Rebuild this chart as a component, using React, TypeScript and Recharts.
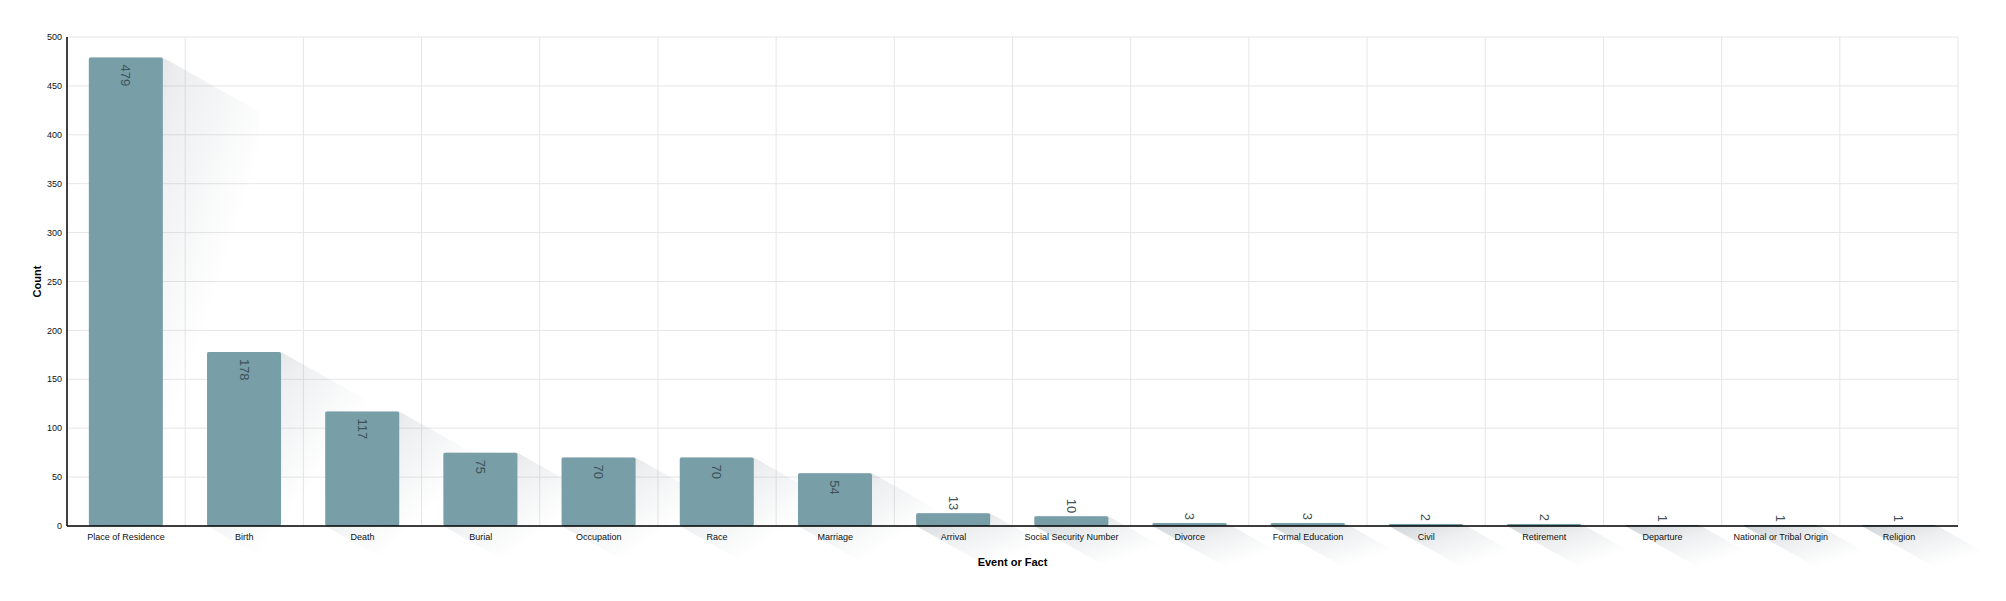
import React from 'react';
import { BarChart, Bar, XAxis, YAxis, CartesianGrid, LabelList, Label } from 'recharts';

const categories = [
  'Place of Residence', 'Birth', 'Death', 'Burial', 'Occupation', 'Race', 'Marriage', 'Arrival',
  'Social Security Number', 'Divorce', 'Formal Education', 'Civil', 'Retirement', 'Departure',
  'National or Tribal Origin', 'Religion',
];
const counts = [479, 178, 117, 75, 70, 70, 54, 13, 10, 3, 3, 2, 2, 1, 1, 1];
const yTicks = [0, 50, 100, 150, 200, 250, 300, 350, 400, 450, 500];

const data = categories.map((name, i) => ({ name, count: counts[i] }));

const BAR_COLOR = '#789ea8';
const FONT = '"Liberation Sans", Arial, Helvetica, sans-serif';

const ShadowBar = (props: any) => {
  const { x, y, width, height } = props;
  if (width == null || height == null) return null;
  const dx = 96;
  const dy = 54;
  const pts = [
    [x, y],
    [x + width, y],
    [x + width + dx, y + dy],
    [x + width + dx, y + height + dy],
    [x + dx, y + height + dy],
    [x, y + height],
  ]
    .map((p) => p.join(','))
    .join(' ');
  return (
    <g>
      <polygon points={pts} fill="url(#longShadow)" />
      <rect x={x} y={y} width={width} height={height} rx={2} ry={2} fill={BAR_COLOR} />
    </g>
  );
};

const ValueLabel = (props: any) => {
  const { x, y, width, height, value } = props;
  const cx = x + width / 2;
  const inside = height > 30;
  const ty = inside ? y + 7 : y - 3;
  return (
    <text
      x={cx}
      y={ty}
      transform={`rotate(90, ${cx}, ${ty})`}
      textAnchor={inside ? 'start' : 'end'}
      dominantBaseline="central"
      fontSize={13}
      fontFamily={FONT}
      fill="#3e5258"
    >
      {value}
    </text>
  );
};

const vertGen = ({ offset }: any) => {
  const arr: number[] = [];
  const n = categories.length;
  for (let i = 1; i <= n; i++) arr.push(offset.left + (offset.width * i) / n);
  return arr;
};

export default function App() {
  return (
    <div style={{ width: 1998, height: 564, fontFamily: FONT }}>
      <BarChart
        width={1998}
        height={564}
        data={data}
        margin={{ top: 29, right: 48, left: 0, bottom: 6 }}
        barCategoryGap="18.5%"
      >
        <defs>
          <linearGradient id="longShadow" x1="0" y1="0" x2="1" y2="1">
            <stop offset="0" stopColor="#5f6f7a" stopOpacity={0.3} />
            <stop offset="0.3" stopColor="#5f6f7a" stopOpacity={0.11} />
            <stop offset="0.6" stopColor="#5f6f7a" stopOpacity={0} />
          </linearGradient>
        </defs>
        <CartesianGrid stroke="#e6e6e6" verticalCoordinatesGenerator={vertGen} />
        <Bar dataKey="count" isAnimationActive={false} shape={<ShadowBar />}>
          <LabelList dataKey="count" content={<ValueLabel />} />
        </Bar>
        <XAxis
          dataKey="name"
          interval={0}
          tickLine={false}
          height={40}
          axisLine={{ stroke: '#000', strokeWidth: 1.5 }}
          tick={{ fontSize: 9, fill: '#111', fontFamily: FONT }}
        >
          <Label
            value="Event or Fact"
            position="insideBottom"
            offset={0}
            style={{ fontSize: 11, fontWeight: 'bold', fill: '#000', fontFamily: FONT }}
          />
        </XAxis>
        <YAxis
          width={59}
          domain={[0, 500]}
          ticks={yTicks}
          tickLine={false}
          tickSize={3}
          tickMargin={2}
          axisLine={{ stroke: '#000', strokeWidth: 1.5 }}
          tick={{ fontSize: 9, fill: '#111', fontFamily: FONT }}
        >
          <Label
            value="Count"
            angle={-90}
            position="center"
            style={{ fontSize: 11, fontWeight: 'bold', fill: '#000', fontFamily: FONT, textAnchor: 'middle' }}
          />
        </YAxis>
      </BarChart>
    </div>
  );
}
